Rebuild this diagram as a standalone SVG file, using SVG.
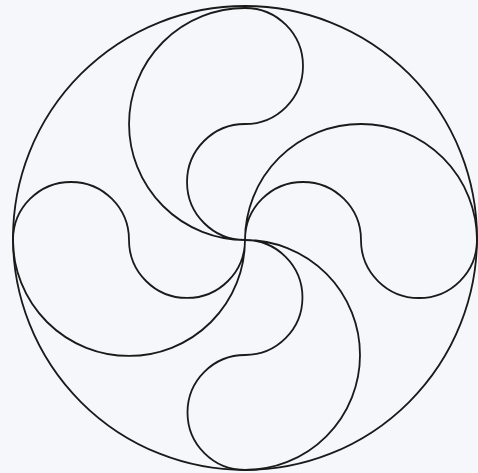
<svg xmlns="http://www.w3.org/2000/svg" width="478" height="473" viewBox="0 0 478 473">
<style>
.l{fill:none;stroke:#1a1a1a;stroke-width:1.8;stroke-linecap:round}
</style>
<rect width="478" height="473" fill="#f6f7fb"/>
<circle class="l" cx="245" cy="238" r="232"/>
<g id="top-arm">
<path class="l" d="M245,8 A116,116 0 0 0 245,240 M245,8 A58,58 0 0 1 245,124 A58,58 0 0 0 245,240"/>
</g>
<g id="right-arm">
<path class="l" d="M477,240 A116,116 0 0 0 245,240 M477,240 A58,58 0 0 1 361,240 A58,58 0 0 0 245,240"/>
</g>
<g id="bottom-arm">
<path class="l" d="M245,470 A115,115 0 0 0 245,240 M245,470 A57.5,57.5 0 0 1 245,355 A57.5,57.5 0 0 0 245,240"/>
</g>
<g id="left-arm">
<path class="l" d="M13,240 A116,116 0 0 0 245,240 M13,240 A58,58 0 0 1 129,240 A58,58 0 0 0 245,240"/>
</g>
</svg>
